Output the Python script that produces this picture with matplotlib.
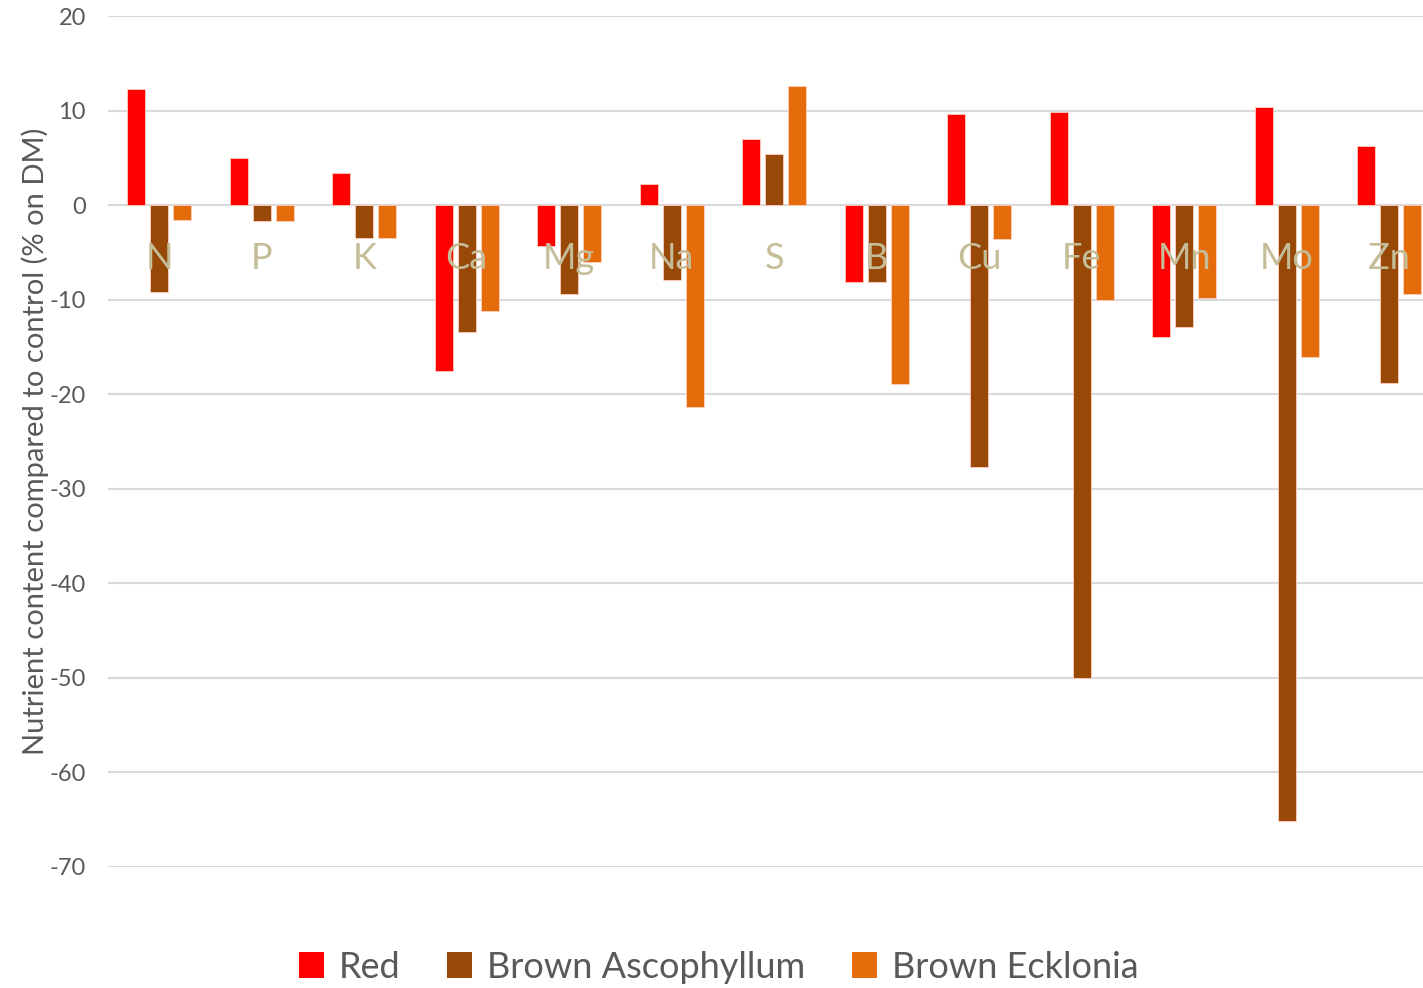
import numpy as np
import matplotlib.pyplot as plt
from matplotlib.patches import Patch

plt.rcParams['font.family'] = ['Lato', 'DejaVu Sans']
plt.rcParams['axes.unicode_minus'] = False

nutrients = ["N", "P", "K", "Ca", "Mg", "Na", "S", "B", "Cu", "Fe", "Mn", "Mo", "Zn"]
red = [12.3, 5.0, 3.4, -17.5, -4.3, 2.2, 7.0, -8.1, 9.6, 9.9, -13.9, 10.4, 6.2]
ascophyllum = [-9.2, -1.7, -3.5, -13.4, -9.4, -7.9, 5.4, -8.1, -27.7, -50.0, -12.9, -65.1, -18.8]
ecklonia = [-1.6, -1.7, -3.5, -11.2, -6.0, -21.4, 12.6, -18.9, -3.6, -10.0, -9.8, -16.1, -9.4]

series = ["Red", "Brown Ascophyllum", "Brown Ecklonia"]
colors = ["#FF0000", "#984807", "#E46C0A"]

fig = plt.figure(figsize=(14.23, 9.88), dpi=100)
ax = fig.add_axes([0.0759, 0.1225, 0.9241, 0.8613])

x = np.arange(len(nutrients))
w = 0.176
step = 0.225
for i, (vals, c) in enumerate(zip([red, ascophyllum, ecklonia], colors)):
    ax.bar(x + (i - 1) * step, vals, width=w, color=c, edgecolor="#FFD0C0",
           linewidth=0.6, zorder=2)

# category labels sit just under the zero line, on top of the bars
for xi, name in zip(x, nutrients):
    ax.text(xi, -5.6, name, ha="center", va="center", fontsize=26,
            color="#C4BD97", zorder=3)

ax.set_xlim(-0.5, 12.33)
ax.set_ylim(-70, 20)
ax.set_yticks(np.arange(-70, 21, 10))
ax.set_xticks([])
ax.yaxis.grid(True, color="#D9D9D9", linewidth=1.5, zorder=0)
ax.set_axisbelow(True)
for s in ax.spines.values():
    s.set_visible(False)
ax.tick_params(axis="y", length=0, labelsize=17, labelcolor="#595959", pad=16)
ax.set_ylabel("Nutrient content compared to control (% on DM)", fontsize=21,
              color="#595959", labelpad=0)

handles = [Patch(facecolor=c, label=s) for s, c in zip(series, colors)]
fig.legend(handles=handles, loc="center", bbox_to_anchor=(0.505, 0.021), ncol=3,
           frameon=False, fontsize=26, labelcolor="#595959", handlelength=0.7,
           handleheight=0.7, handletextpad=0.4, columnspacing=1.3)

fig.savefig("out.png", dpi=100)
